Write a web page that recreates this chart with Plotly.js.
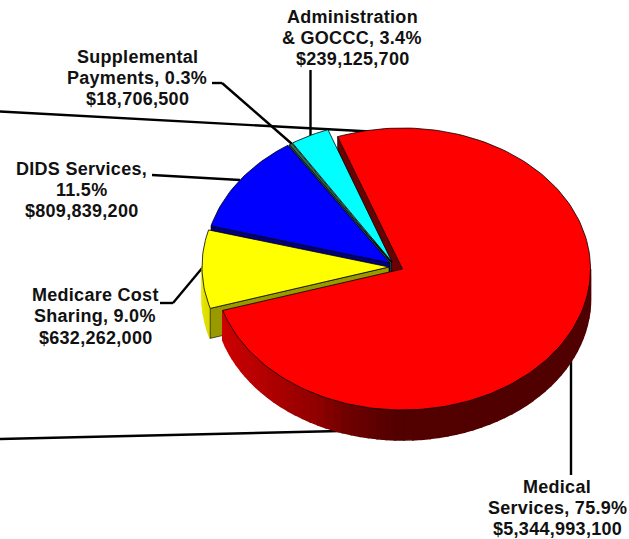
<!DOCTYPE html>
<html><head><meta charset="utf-8">
<script src="https://cdn.plot.ly/plotly-3.0.0.min.js"></script>
<style>html,body{margin:0;padding:0;background:#fff}#c{width:629px;height:539px}
.annotation-text{letter-spacing:0.28px}</style>
</head><body><div id="c"></div>
<script>
// data
const categories = ["Medical Services","Medicare Cost Sharing","DIDS Services","Supplemental Payments","Administration & GOCCC"];
const dollars = [5344993100,632262000,809839200,18706500,239125700];
const percents = ["75.9%","9.0%","11.5%","0.3%","3.4%"];
const amounts = ["$5,344,993,100","$632,262,000","$809,839,200","$18,706,500","$239,125,700"];
// style
const topColors = ["#ff0000","#ffff00","#0000ff","#2f6f52","#00ffff"];
const wallColors = ["#6a0000","#999900","#000080","#1f5a44","#008888"];
const cx = [402.5,389,390,391.5,392];
const cy = [269,267,263,262.5,262];
const rxs = [188,187,185.5,185.5,185.5];
const ry = 141, depth = 30, startDeg = -20.2;

const total = dollars.reduce((a,b)=>a+b,0);
let acc = startDeg;
const spans = dollars.map(v=>{const a=acc; acc+=v/total*360; return [a,acc];});
const pt = (i,deg,dy=0)=>{const r=deg*Math.PI/180; return [cx[i]+rxs[i]*Math.sin(r), cy[i]-ry*Math.cos(r)+dy];};
const arc = (i,a,b,dy=0)=>{const n=Math.max(2,Math.ceil(Math.abs(b-a)/1.5)); const o=[]; for(let k=0;k<=n;k++)o.push(pt(i,a+(b-a)*k/n,dy)); return o;};
const poly = (pts,fill,line,w,name)=>({type:"scatter",mode:"lines",name,x:pts.map(p=>p[0]).concat([pts[0][0]]),y:pts.map(p=>p[1]).concat([pts[0][1]]),
  fill:"toself",fillcolor:fill,line:{color:line||fill,width:w===undefined?0.5:w},hoverinfo:"skip",showlegend:false});
const topFace = i=>poly([[cx[i],cy[i]]].concat(arc(i,spans[i][0],spans[i][1])),topColors[i],"#000",0.8,categories[i]);
const wall = (i,deg)=>{const p=pt(i,deg),c=[cx[i],cy[i]];return poly([p,c,[c[0],c[1]+depth],[p[0],p[1]+depth]],wallColors[i],"#000",0.6,categories[i]+" wall");};
const side = (i,a,b,col)=>poly(arc(i,a,b).concat(arc(i,b,a,depth)),col,col,1.6,categories[i]+" side");

const mix=(s,e,f)=>{const c=s.map((v,k)=>Math.round(v+(e[k]-v)*f));return `rgb(${c[0]},${c[1]},${c[2]})`;};
const traces=[];
traces.push(wall(0,spans[0][0]));
traces.push(topFace(4));
traces.push(wall(3,spans[3][0]),topFace(3));
traces.push(wall(2,spans[2][0]),topFace(2));
// Medicare outer side and cut face
const yEnd=270, yStart=spans[1][0];
const yBands=5;
for(let k=0;k<yBands;k++){const f=k/(yBands-1);
  traces.push(side(1,yStart+(yEnd-yStart)*k/yBands,yStart+(yEnd-yStart)*(k+1)/yBands,mix([218,218,0],[232,232,0],f)));}
traces.push(wall(1,spans[1][0]),topFace(1));
// Medical outer side, shaded
const a0=spans[0][1], a1=90, bands=60;
const stops=[[0,[208,0,0]],[0.16,[178,0,0]],[0.28,[144,0,0]],[0.34,[112,0,0]],[0.435,[82,0,0]],[1,[80,0,0]]];
const shade=f=>{for(let s=1;s<stops.length;s++){if(f<=stops[s][0]){return mix(stops[s-1][1],stops[s][1],(f-stops[s-1][0])/(stops[s][0]-stops[s-1][0]));}}return "rgb(80,0,0)";};
for(let k=0;k<bands;k++){traces.push(side(0,a0+(a1-a0)*k/bands,a0+(a1-a0)*(k+1)/bands,shade(k/(bands-1))));}
traces.push(topFace(0));

// leader lines
const seg=(xs,ys)=>{const o=[];for(let i=1;i<xs.length;i++)o.push({type:"line",xref:"x",yref:"y",x0:xs[i-1],y0:ys[i-1],x1:xs[i],y1:ys[i],layer:"below",line:{color:"#000",width:2.4}});return o;};
const shapes=[].concat(
  seg([310.5,310.5],[70,136]),
  seg([212,222,292],[83,83,144]),
  seg([0,370],[111.5,131.5]),
  seg([152,240],[175,180]),
  seg([160,173,203],[303,303,267]),
  seg([571,571],[360,475]),
  seg([0,340],[439,431])
);

// labels, one line at a time
const labelLines=[
  [557,[487,508,529],["Medical","Services, "+percents[0],amounts[0]]],
  [95,[295,316,338],["Medicare Cost","Sharing, "+percents[1],amounts[1]]],
  [81,[169,190,211],["DIDS Services,",percents[2],amounts[2]]],
  [137,[57,78,99],["Supplemental","Payments, "+percents[3],amounts[3]]],
  [352,[17,38,59],["Administration","& GOCCC, "+percents[4],amounts[4]]]
];
const annotations=[];
labelLines.forEach(([x,ys,ts])=>ts.forEach((t,i)=>annotations.push({xref:"x",yref:"y",x,y:ys[i],text:"<b>"+t+"</b>",showarrow:false,xanchor:"center",yanchor:"middle",
  font:{family:"'Liberation Sans',Arial,sans-serif",size:18,color:"#111"}})));

const hidden=r=>({range:r,visible:false,fixedrange:true,showgrid:false,zeroline:false});
Plotly.newPlot("c",traces,{width:629,height:539,margin:{l:0,r:0,t:0,b:0},paper_bgcolor:"#fff",plot_bgcolor:"#fff",showlegend:false,
  xaxis:hidden([0,629]),yaxis:hidden([539,0]),shapes,annotations},{displayModeBar:false,staticPlot:true});
</script></body></html>
